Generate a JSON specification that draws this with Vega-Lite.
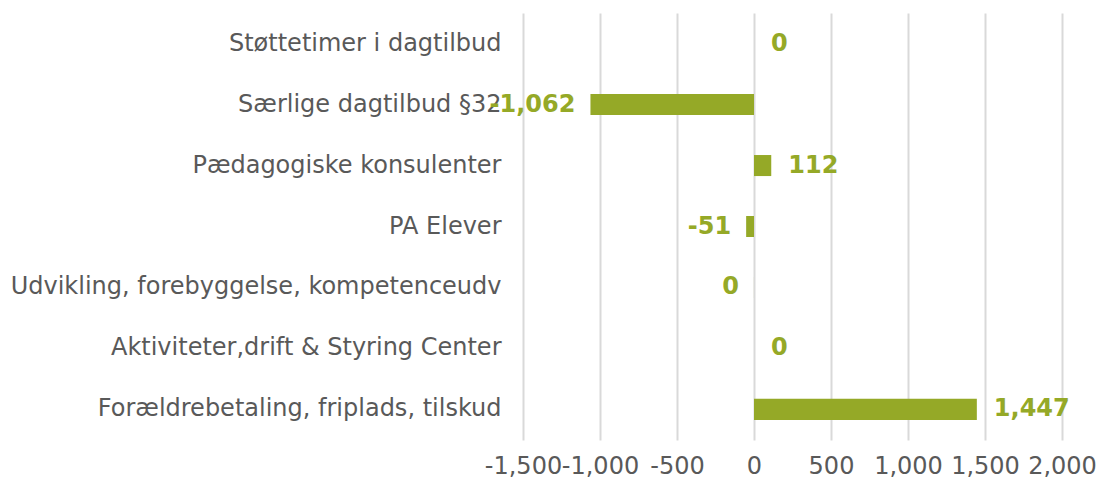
{
  "$schema": "https://vega.github.io/schema/vega-lite/v6.json",
  "autosize": "none",
  "width": 539,
  "height": 427,
  "padding": {"left": 523, "top": 13, "right": 37, "bottom": 43},
  "background": "white",
  "config": {
    "view": {"stroke": null},
    "font": "DejaVu Sans",
    "locale": {"number": {"decimal": ".", "thousands": ",", "grouping": [3], "currency": ["$", ""], "minus": "-"}}
  },
  "data": {
    "values": [
      {"category": "Støttetimer i dagtilbud", "value": 0},
      {"category": "Særlige dagtilbud §32", "value": -1062},
      {"category": "Pædagogiske konsulenter", "value": 112},
      {"category": "PA Elever", "value": -51},
      {"category": "Udvikling, forebyggelse, kompetenceudv", "value": -0.2},
      {"category": "Aktiviteter,drift & Styring Center", "value": 0},
      {"category": "Forældrebetaling, friplads, tilskud", "value": 1447}
    ]
  },
  "encoding": {
    "y": {
      "field": "category", "type": "nominal", "sort": null, "title": null,
      "scale": {"paddingInner": 0.655, "paddingOuter": 0.33},
      "axis": {"domain": false, "ticks": false, "grid": false, "labelFontSize": 24, "labelColor": "#595959", "labelPadding": 22, "labelLimit": 700}
    },
    "x": {
      "field": "value", "type": "quantitative", "title": null,
      "scale": {"domain": [-1500, 2000], "nice": false, "zero": false},
      "axis": {"values": [-1500, -1000, -500, 0, 500, 1000, 1500, 2000], "format": ",.0f", "domain": false, "ticks": false, "grid": true, "gridColor": "#d9d9d9", "gridWidth": 2, "labelFontSize": 24, "labelColor": "#595959", "labelPadding": 14, "labelOverlap": false, "labelFlush": false}
    }
  },
  "layer": [
    {"mark": {"type": "bar", "color": "#95a927"}},
    {
      "transform": [{"filter": "datum.value >= 0"}],
      "mark": {"type": "text", "align": "left", "baseline": "middle", "dx": 17, "fontSize": 24, "fontWeight": "bold", "color": "#95a927"},
      "encoding": {"text": {"field": "value", "type": "quantitative", "format": ",.0f"}}
    },
    {
      "transform": [{"filter": "datum.value < 0"}],
      "mark": {"type": "text", "align": "right", "baseline": "middle", "dx": -15, "fontSize": 24, "fontWeight": "bold", "color": "#95a927"},
      "encoding": {"text": {"field": "value", "type": "quantitative", "format": ",.0f"}}
    }
  ]
}
